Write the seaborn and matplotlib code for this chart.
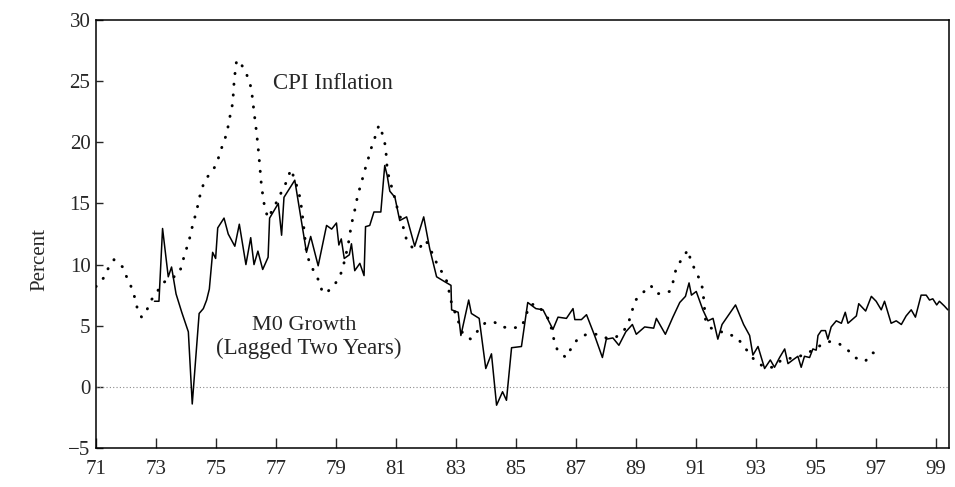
import pandas as pd
import matplotlib.pyplot as plt
import seaborn as sns

# ── data (year = 71.0 ... 99.x, values in percent) ──
cpi_year = [71.0, 71.08, 71.25, 71.41, 71.6, 71.89, 72.02, 72.17, 72.28, 72.37,
            72.52, 72.67, 72.81, 73.0, 73.19, 73.4, 73.6, 73.78, 73.89, 73.97,
            74.08, 74.24, 74.36, 74.43, 74.52, 74.63, 74.86, 75.02, 75.13, 75.24,
            75.36, 75.49, 75.56, 75.61, 75.69, 75.8, 75.97, 76.11, 76.19, 76.27,
            76.36, 76.43, 76.52, 76.63, 76.74, 77.0, 77.22, 77.36, 77.5, 77.62,
            77.74, 77.82, 77.91, 78.02, 78.13, 78.3, 78.47, 78.55, 78.69, 78.94,
            79.13, 79.24, 79.41, 79.52, 79.61, 79.74, 79.86, 79.93, 80.06, 80.13,
            80.27, 80.36, 80.44, 80.58, 80.66, 80.71, 80.78, 80.88, 80.97, 81.06,
            81.19, 81.36, 81.58, 81.77, 82.0, 82.16, 82.3, 82.41, 82.6, 82.74,
            82.8, 82.89, 83.02, 83.24, 83.5, 83.74, 83.97, 84.28, 84.56, 84.83,
            85.19, 85.33, 85.44, 85.63, 85.91, 86.13, 86.28, 86.39, 86.67, 86.86,
            87.06, 87.36, 87.69, 88.02, 88.36, 88.61, 88.78, 88.89, 89.0, 89.24,
            89.5, 89.71, 89.93, 90.13, 90.22, 90.36, 90.56, 90.74, 90.83, 90.97,
            91.11, 91.24, 91.27, 91.33, 91.52, 92.08, 92.36, 92.58, 92.8, 93.02,
            93.33, 93.6, 93.86, 94.3, 94.6, 94.91, 95.17, 95.47, 95.8, 96.08,
            96.3, 96.66, 96.89, 97.22]
cpi_value = [8.2, 8.4, 8.9, 9.7, 10.4, 9.8, 9.0, 8.2, 7.4, 6.5,
             5.7, 6.1, 7.0, 7.6, 8.4, 8.8, 9.0, 9.3, 10.2, 11.0,
             11.7, 13.4, 14.4, 15.3, 16.1, 16.9, 17.6, 18.2, 19.1, 19.9,
             20.7, 22.4, 23.2, 25.1, 26.7, 26.6, 25.8, 25.1, 24.2, 22.5,
             20.7, 19.0, 16.4, 14.6, 13.8, 15.0, 16.1, 16.8, 17.8, 17.0,
             16.1, 15.3, 13.5, 11.0, 10.1, 9.3, 8.5, 7.7, 7.7, 8.3,
             9.0, 9.8, 11.6, 13.3, 14.2, 15.8, 16.7, 17.5, 18.4, 19.2,
             20.1, 20.9, 21.4, 20.5, 19.6, 17.9, 17.0, 16.2, 15.4, 14.5,
             13.6, 12.0, 11.3, 11.3, 12.0, 11.2, 10.5, 9.8, 9.2, 8.4,
             7.4, 6.6, 5.8, 4.3, 3.9, 4.6, 5.2, 5.3, 4.9, 4.8,
             4.9, 5.7, 6.6, 6.8, 6.2, 5.4, 3.8, 3.0, 2.4, 3.2,
             3.9, 4.3, 4.3, 4.0, 4.1, 4.6, 5.4, 6.3, 7.1, 7.7,
             8.3, 7.6, 7.7, 7.8, 8.3, 9.8, 10.5, 11.2, 10.4, 9.6,
             8.9, 8.0, 7.1, 5.5, 4.8, 4.3, 4.1, 3.4, 2.7, 2.0,
             1.6, 1.6, 2.2, 2.4, 2.6, 3.0, 3.4, 3.7, 3.5, 3.0,
             2.4, 2.1, 2.8, 2.6]

m0_year = [72.95, 73.1, 73.22, 73.41, 73.52, 73.67, 73.86, 74.08, 74.21, 74.44,
           74.58, 74.69, 74.78, 74.89, 74.99, 75.06, 75.27, 75.41, 75.63, 75.78,
           76.0, 76.16, 76.27, 76.4, 76.56, 76.74, 76.79, 76.91, 77.08, 77.19,
           77.27, 77.63, 78.02, 78.16, 78.41, 78.69, 78.86, 79.02, 79.1, 79.18,
           79.28, 79.45, 79.52, 79.63, 79.8, 79.94, 79.99, 80.13, 80.27, 80.5,
           80.63, 80.71, 80.8, 80.97, 81.13, 81.36, 81.63, 81.93, 82.13, 82.36,
           82.63, 82.84, 82.86, 83.08, 83.17, 83.43, 83.52, 83.78, 84.0, 84.19,
           84.36, 84.56, 84.69, 84.86, 85.19, 85.4, 85.67, 85.91, 86.24, 86.41,
           86.69, 86.91, 86.97, 87.19, 87.36, 87.63, 87.89, 88.02, 88.24, 88.44,
           88.67, 88.89, 89.02, 89.3, 89.6, 89.69, 89.99, 90.24, 90.47, 90.66,
           90.78, 90.86, 91.02, 91.24, 91.41, 91.58, 91.74, 91.88, 92.33, 92.6,
           92.8, 92.91, 93.08, 93.3, 93.49, 93.63, 93.8, 93.97, 94.08, 94.24,
           94.41, 94.52, 94.63, 94.8, 94.91, 95.02, 95.08, 95.19, 95.33, 95.41,
           95.52, 95.69, 95.86, 95.99, 96.08, 96.36, 96.44, 96.67, 96.86, 97.02,
           97.19, 97.3, 97.52, 97.69, 97.86, 98.02, 98.19, 98.33, 98.52, 98.69,
           98.8, 98.91, 99.04, 99.13, 99.3, 99.41]
m0_value = [7.0, 7.0, 12.95, 9.0, 9.8, 7.6, 6.1, 4.5, -1.4, 6.0,
            6.4, 7.1, 8.0, 11.0, 10.5, 13.0, 13.8, 12.5, 11.5, 13.3,
            10.0, 12.2, 10.0, 11.1, 9.6, 10.6, 13.8, 14.3, 15.0, 12.4,
            15.5, 16.9, 11.0, 12.3, 9.9, 13.2, 12.9, 13.4, 11.6, 12.1,
            10.5, 10.8, 11.7, 9.5, 10.1, 9.1, 13.1, 13.2, 14.3, 14.3,
            18.1, 17.3, 16.0, 15.5, 13.6, 13.9, 11.5, 13.9, 11.3, 9.0,
            8.6, 8.3, 6.3, 6.1, 4.2, 7.1, 6.0, 5.6, 1.5, 2.7,
            -1.5, -0.4, -1.1, 3.2, 3.3, 6.9, 6.4, 6.3, 4.7, 5.7,
            5.6, 6.4, 5.5, 5.5, 5.9, 4.2, 2.4, 3.9, 4.0, 3.4,
            4.5, 5.1, 4.3, 4.9, 4.8, 5.6, 4.3, 5.7, 6.9, 7.4,
            8.5, 7.5, 7.8, 6.3, 5.4, 5.6, 3.9, 5.1, 6.7, 5.1,
            4.2, 2.6, 3.3, 1.5, 2.2, 1.6, 2.4, 3.1, 1.9, 2.2,
            2.5, 1.6, 2.5, 2.4, 3.1, 3.0, 4.2, 4.6, 4.6, 3.9,
            4.9, 5.4, 5.2, 6.1, 5.2, 5.8, 6.8, 6.2, 7.4, 7.0,
            6.3, 7.0, 5.2, 5.4, 5.1, 5.8, 6.3, 5.7, 7.5, 7.5,
            7.1, 7.2, 6.7, 7.0, 6.6, 6.3]

x_ticks = list(range(71, 100, 2))
y_ticks = [-5, 0, 5, 10, 15, 20, 25, 30]

cpi = pd.DataFrame({'year': cpi_year, 'value': cpi_value})
m0 = pd.DataFrame({'year': m0_year, 'value': m0_value})

# ── style ─────────────────────────────────────────────────────
sns.set_style('ticks')
plt.rcParams['font.family'] = ['Liberation Serif', 'DejaVu Serif']

fig = plt.figure(figsize=(9.55, 4.87), dpi=100)
ax = fig.add_axes([96 / 955, 1 - 448 / 487, 853 / 955, 428 / 487])

ax.axhline(0, color='#8a8a8a', lw=0.8, ls=(0, (1, 2)), zorder=1)

sns.lineplot(data=m0, x='year', y='value', ax=ax, color='black',
             lw=1.1, estimator=None, sort=False)
sns.lineplot(data=cpi, x='year', y='value', ax=ax, color='black',
             lw=2.1, estimator=None, sort=False,
             linestyle=(0, (0.1, 3.6)), dash_capstyle='round')

ax.set_xlim(71, 99.45)
ax.set_ylim(-5, 30)
ax.set_xticks(x_ticks)
ax.set_xticklabels([str(t) for t in x_ticks])
ax.set_yticks(y_ticks)
ax.set_yticklabels(['\u22125' if t < 0 else str(t) for t in y_ticks])

ax.tick_params(axis='x', direction='in', length=7, width=1, labelsize=15, pad=9)
ax.tick_params(axis='y', direction='in', length=5, width=1, labelsize=15, pad=4)
for side in ['left', 'bottom', 'top', 'right']:
    ax.spines[side].set_visible(True)
    ax.spines[side].set_linewidth(1.1)
    ax.spines[side].set_color('black')

ax.set_xlabel('')
ax.set_ylabel('Percent', fontsize=15)
ax.yaxis.set_label_coords(-0.055, 0.44)

ax.text(76.89, 24.37, 'CPI Inflation', fontsize=16.5, ha='left', va='baseline')
ax.text(77.95, 4.61, 'M0 Growth', fontsize=16, ha='center', va='baseline')
ax.text(78.1, 2.7, '(Lagged Two Years)', fontsize=16.5, ha='center', va='baseline')

plt.savefig('out.png', dpi=100)
plt.close()
